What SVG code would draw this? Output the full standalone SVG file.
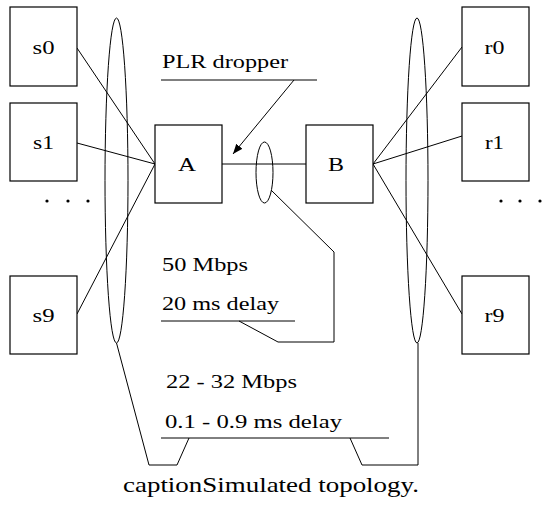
<svg xmlns="http://www.w3.org/2000/svg" width="543" height="506" viewBox="0 0 543 506">
  <style>
    .box { fill: #fff; stroke: #000; stroke-width: 1.2; }
    .ln { fill: none; stroke: #000; stroke-width: 1; }
    text { font-family: 'Liberation Serif', Tinos, 'Nimbus Roman', 'Times New Roman', Times, serif; font-size: 19.5px; fill: #000; }
    .lbl { text-anchor: middle; }
    .cap { font-size: 21.5px; }
  </style>
  <defs>
    <marker id="arrow" viewBox="0 0 10 10" refX="10" refY="5" markerWidth="10" markerHeight="10" markerUnits="userSpaceOnUse" orient="auto">
      <path d="M0,1 L10,5 L0,9 Z" fill="#000"/>
    </marker>
  </defs>
  <rect width="543" height="506" fill="#fff"/>

  <g id="connectors">
    <!-- senders to A -->
    <line class="ln" x1="77" y1="48" x2="155" y2="164"/>
    <line class="ln" x1="77" y1="143" x2="155" y2="164"/>
    <line class="ln" x1="77" y1="314" x2="155" y2="164"/>
    <!-- bottleneck A-B -->
    <line class="ln" x1="222" y1="164" x2="306" y2="164"/>
    <!-- B to receivers -->
    <line class="ln" x1="373" y1="164" x2="462" y2="47"/>
    <line class="ln" x1="373" y1="164" x2="462" y2="136"/>
    <line class="ln" x1="373" y1="164" x2="462" y2="314"/>
    <!-- link groupings -->
    <ellipse class="ln" cx="116.5" cy="180.5" rx="11.5" ry="162.5"/>
    <ellipse class="ln" cx="417" cy="180.5" rx="11" ry="162.5"/>
    <ellipse class="ln" cx="264.5" cy="172.5" rx="8.5" ry="30.5"/>
    <!-- PLR dropper callout -->
    <line class="ln" x1="161" y1="80" x2="317" y2="80"/>
    <line class="ln" x1="294" y1="80" x2="233" y2="154" marker-end="url(#arrow)"/>
    <!-- bottleneck callout -->
    <polyline class="ln" points="271,190 334,252 334,342 278,342 239,321"/>
    <line class="ln" x1="161" y1="321" x2="295" y2="321"/>
    <!-- access link callout -->
    <polyline class="ln" points="116.5,343 149,465 177,465 189,438"/>
    <line class="ln" x1="161" y1="438" x2="389" y2="438"/>
    <polyline class="ln" points="350,438 362,465 418,465 418,343"/>
  </g>

  <g id="s0"><rect class="box" x="10" y="7" width="67" height="79"/><text class="lbl" x="43.5" y="54" textLength="22" lengthAdjust="spacingAndGlyphs">s0</text></g>
  <g id="s1"><rect class="box" x="10" y="103" width="67" height="78"/><text class="lbl" x="43.5" y="149" textLength="21" lengthAdjust="spacingAndGlyphs">s1</text></g>
  <g id="s9"><rect class="box" x="10" y="276" width="67" height="78"/><text class="lbl" x="43.5" y="322" textLength="22" lengthAdjust="spacingAndGlyphs">s9</text></g>
  <g id="A"><rect class="box" x="155" y="125" width="67" height="78"/><text class="lbl" x="187" y="171" textLength="18" lengthAdjust="spacingAndGlyphs">A</text></g>
  <g id="B"><rect class="box" x="306" y="125" width="67" height="78"/><text class="lbl" x="336" y="171" textLength="16" lengthAdjust="spacingAndGlyphs">B</text></g>
  <g id="r0"><rect class="box" x="462" y="7" width="67" height="79"/><text class="lbl" x="494.5" y="54" textLength="20" lengthAdjust="spacingAndGlyphs">r0</text></g>
  <g id="r1"><rect class="box" x="462" y="103" width="67" height="78"/><text class="lbl" x="494.5" y="149" textLength="19" lengthAdjust="spacingAndGlyphs">r1</text></g>
  <g id="r9"><rect class="box" x="462" y="276" width="67" height="78"/><text class="lbl" x="494.5" y="322" textLength="20" lengthAdjust="spacingAndGlyphs">r9</text></g>

  <g id="ellipsis-left">
    <circle cx="47" cy="201" r="1.6"/><circle cx="68" cy="201" r="1.6"/><circle cx="88" cy="201" r="1.6"/>
  </g>
  <g id="ellipsis-right">
    <circle cx="501" cy="201" r="1.6"/><circle cx="520" cy="201" r="1.6"/><circle cx="540" cy="201" r="1.6"/>
  </g>

  <g id="labels">
    <text x="162" y="68" textLength="126" lengthAdjust="spacingAndGlyphs">PLR dropper</text>
    <text x="162" y="271" textLength="86" lengthAdjust="spacingAndGlyphs">50 Mbps</text>
    <text x="162" y="310" textLength="117" lengthAdjust="spacingAndGlyphs">20 ms delay</text>
    <text x="166" y="388" textLength="131" lengthAdjust="spacingAndGlyphs">22 - 32 Mbps</text>
    <text x="165" y="428" textLength="177" lengthAdjust="spacingAndGlyphs">0.1 - 0.9 ms delay</text>
    <text class="cap" x="123" y="492" textLength="296" lengthAdjust="spacingAndGlyphs">captionSimulated topology.</text>
  </g>
</svg>
